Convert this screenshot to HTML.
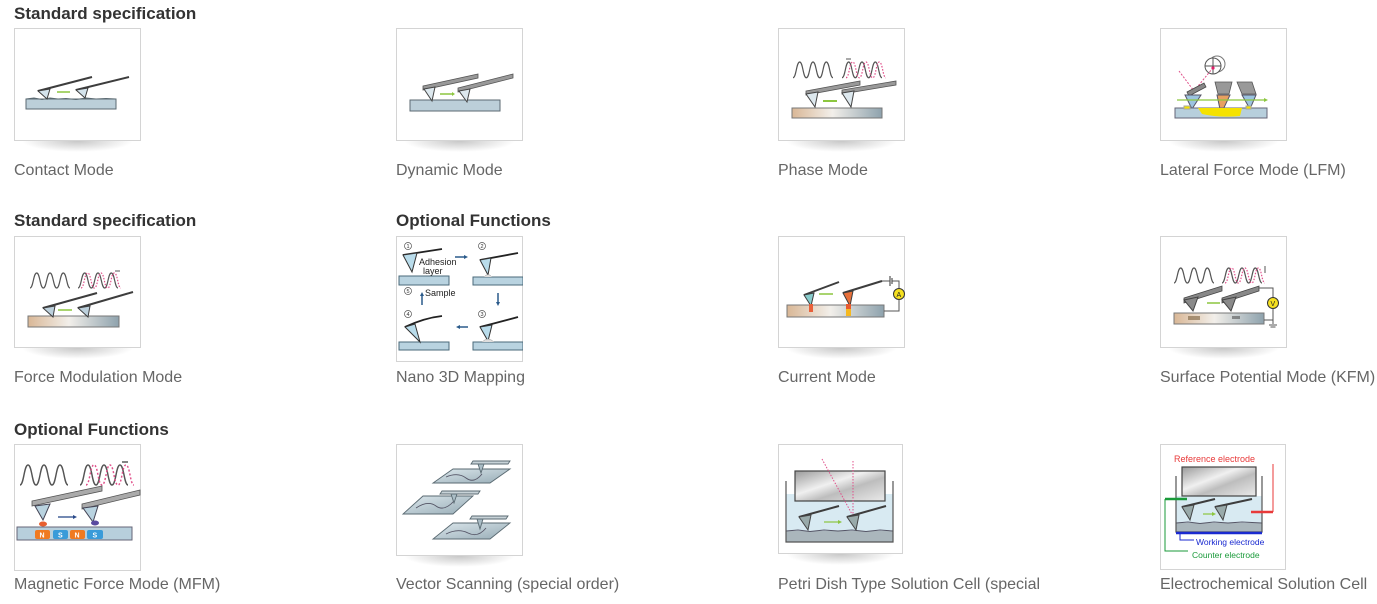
<!DOCTYPE html>
<html><head><meta charset="utf-8">
<style>
html,body{margin:0;padding:0;background:#fff;}
body{width:1377px;height:604px;position:relative;overflow:hidden;font-family:"Liberation Sans",Arial,sans-serif;}
.h{position:absolute;font-weight:bold;font-size:17px;line-height:20px;color:#333;white-space:nowrap;}
.c{position:absolute;font-size:16px;line-height:20px;color:#666;white-space:nowrap;}
.b{position:absolute;}
.sh{position:absolute;height:11px;background:radial-gradient(ellipse 50% 100% at 50% 0%,rgba(0,0,0,0.22),rgba(0,0,0,0) 100%);}
svg text{font-family:"Liberation Sans",Arial,sans-serif;}
</style></head><body>
<svg width="0" height="0" style="position:absolute">
<defs>
<path id="w" d="M0,15 C3.3,15 3.3,0 6.7,0 C10,0 10,15 13.3,15 C16.7,15 16.7,0 20,0 C23.3,0 23.3,15 26.7,15 C30,15 30,0 33.3,0 C36.7,0 36.7,15 40,15" fill="none"/>
<linearGradient id="gs" x1="0" x2="1" y1="0" y2="0"><stop offset="0" stop-color="#d9b796"/><stop offset="0.45" stop-color="#f2efea"/><stop offset="1" stop-color="#8ea2ad"/></linearGradient>
<linearGradient id="gv" x1="0" x2="1" y1="0" y2="1"><stop offset="0" stop-color="#dce7ec"/><stop offset="1" stop-color="#97acb6"/></linearGradient>
<linearGradient id="gg" x1="0" x2="1" y1="0" y2="1"><stop offset="0" stop-color="#9a9a9a"/><stop offset="0.4" stop-color="#f0f0f0"/><stop offset="0.6" stop-color="#bdbdbd"/><stop offset="1" stop-color="#eaeaea"/></linearGradient>
</defs></svg>

<!-- Headings -->
<div class="h" style="left:14px;top:4px">Standard specification</div>
<div class="h" style="left:14px;top:211px">Standard specification</div>
<div class="h" style="left:396px;top:211px">Optional Functions</div>
<div class="h" style="left:14px;top:420px">Optional Functions</div>

<!-- Row 1 -->
<!-- Contact -->
<svg class="b" style="left:14px;top:28px" width="127" height="113">
<rect x="0.5" y="0.5" width="126" height="112" fill="#fff" stroke="#d4d4d4"/>
<rect x="12" y="71" width="90" height="10" fill="#bccfd9" stroke="#5b6a72"/>
<polyline points="12,71 20,70 28,71.5 36,70 44,71 52,70.5 62,71.5 72,70 82,71 92,70.5 102,71" fill="none" stroke="#5b6a72"/>
<line x1="24" y1="63" x2="78" y2="49" stroke="#3d3d3d" stroke-width="2"/>
<polygon points="24,63 36,61 33,71" fill="#d4e3ec" stroke="#3d3d3d"/>
<line x1="62" y1="62" x2="115" y2="49" stroke="#3d3d3d" stroke-width="2"/>
<polygon points="62,62 74,60 71,70" fill="#d4e3ec" stroke="#3d3d3d"/>
<line x1="43" y1="64" x2="56" y2="64" stroke="#8cc63f" stroke-width="1.5"/>
</svg>
<div class="sh" style="left:22px;top:141px;width:111px"></div>
<div class="c" style="left:14px;top:161px">Contact Mode</div>

<!-- Dynamic -->
<svg class="b" style="left:396px;top:28px" width="127" height="113">
<rect x="0.5" y="0.5" width="126" height="112" fill="#fff" stroke="#d4d4d4"/>
<rect x="14" y="72" width="90" height="11" fill="#bccfd9" stroke="#5b6a72"/>
<polygon points="27,58 82,46 82,50 27,62" fill="#999" stroke="#555" stroke-width="0.8"/>
<polygon points="28,61 39,59 36,73" fill="#dde8ee" stroke="#444"/>
<polygon points="62,60 117,46 117,50 62,64" fill="#999" stroke="#555" stroke-width="0.8"/>
<polygon points="63,63 74,61 71,74" fill="#dde8ee" stroke="#444"/>
<line x1="44" y1="66" x2="56" y2="66" stroke="#8cc63f" stroke-width="1.5"/>
<polygon points="56,64 59,66 56,68" fill="#8cc63f"/>
</svg>
<div class="sh" style="left:404px;top:141px;width:111px"></div>
<div class="c" style="left:396px;top:161px">Dynamic Mode</div>

<!-- Phase -->
<svg class="b" style="left:778px;top:28px" width="127" height="113">
<rect x="0.5" y="0.5" width="126" height="112" fill="#fff" stroke="#d4d4d4"/>
<use href="#w" transform="translate(15,34) scale(1,1.05)" stroke="#555" stroke-width="1.2"/>
<use href="#w" transform="translate(64,34) scale(1,1.05)" stroke="#555" stroke-width="1.2"/>
<use href="#w" transform="translate(68,34) scale(1,1.05)" stroke="#e0508a" stroke-width="1.2" stroke-dasharray="1.5,1.5"/>
<line x1="68" y1="31" x2="73" y2="31" stroke="#555"/>
<rect x="14" y="80" width="90" height="10" fill="url(#gs)" stroke="#777"/>
<polygon points="28,63 82,53 82,57 28,67" fill="#999" stroke="#555" stroke-width="0.8"/>
<polygon points="28,66 40,64 37,79" fill="#dde8ee" stroke="#444"/>
<polygon points="64,62 118,53 118,57 64,66" fill="#999" stroke="#555" stroke-width="0.8"/>
<polygon points="64,65 76,63 73,79" fill="#dde8ee" stroke="#444"/>
<line x1="45" y1="73" x2="59" y2="73" stroke="#8cc63f" stroke-width="2"/>
</svg>
<div class="sh" style="left:786px;top:141px;width:111px"></div>
<div class="c" style="left:778px;top:161px">Phase Mode</div>

<!-- LFM -->
<svg class="b" style="left:1160px;top:28px" width="127" height="113">
<rect x="0.5" y="0.5" width="126" height="112" fill="#fff" stroke="#d4d4d4"/>
<circle cx="57" cy="36" r="8" fill="#fff" stroke="#777"/>
<circle cx="53" cy="38" r="8" fill="#fff" stroke="#555"/>
<line x1="45" y1="38" x2="61" y2="38" stroke="#555"/><line x1="53" y1="30" x2="53" y2="46" stroke="#555"/>
<circle cx="53" cy="40" r="1.6" fill="#e0206a"/>
<line x1="19" y1="43" x2="34" y2="63" stroke="#e0508a" stroke-dasharray="2,1.5"/>
<line x1="34" y1="63" x2="52" y2="41" stroke="#e0508a" stroke-dasharray="2,1.5"/>
<polygon points="27,64 44,55 46,59 29,68" fill="#888" stroke="#444" stroke-width="0.8"/>
<path d="M55,54 L72,54 L69,66 L58,66 Z" fill="#999" stroke="#555" stroke-width="0.8"/>
<path d="M77,54 L92,54 L96,66 L82,66 Z" fill="#999" stroke="#555" stroke-width="0.8"/>
<polygon points="25,67 41,67 32,81" fill="#9cc4e0" stroke="#556"/>
<polygon points="57,67 70,67 61,86" fill="#e8a060" stroke="#556"/>
<polygon points="82,67 96,67 90,81" fill="#9cc4e0" stroke="#556"/>
<line x1="17" y1="72" x2="104" y2="72" stroke="#8cc63f" stroke-width="1.2"/>
<polygon points="104,70 108,72 104,74" fill="#8cc63f"/>
<rect x="15" y="80" width="92" height="10" fill="#b7cfdc" stroke="#667"/>
<path d="M38,80 L82,80 L80,88 Q60,90 42,86 Z" fill="#f5e200"/>
<rect x="24" y="78" width="6" height="3" fill="#f5e200" stroke="#aa9"/>
<rect x="86" y="78" width="5" height="3" fill="#f5e200" stroke="#aa9"/>
</svg>
<div class="sh" style="left:1168px;top:141px;width:111px"></div>
<div class="c" style="left:1160px;top:161px">Lateral Force Mode (LFM)</div>

<!-- Row 2 -->
<!-- Force Modulation -->
<svg class="b" style="left:14px;top:236px" width="127" height="112">
<rect x="0.5" y="0.5" width="126" height="111" fill="#fff" stroke="#d4d4d4"/>
<use href="#w" transform="translate(16,37)" stroke="#555" stroke-width="1.2"/>
<use href="#w" transform="translate(64,37)" stroke="#555" stroke-width="1.2"/>
<use href="#w" transform="translate(67,37)" stroke="#e0508a" stroke-width="1.2" stroke-dasharray="1.5,1.5"/>
<line x1="101" y1="35" x2="106" y2="35" stroke="#555"/>
<rect x="14" y="80" width="91" height="11" fill="url(#gs)" stroke="#777"/>
<line x1="29" y1="72" x2="83" y2="57" stroke="#3d3d3d" stroke-width="2"/>
<polygon points="29,72 41,70 39,81" fill="#bcd0dc" stroke="#3d3d3d"/>
<line x1="64" y1="72" x2="119" y2="56" stroke="#3d3d3d" stroke-width="2"/>
<polygon points="64,72 76,70 74,81" fill="#bcd0dc" stroke="#3d3d3d"/>
<line x1="44" y1="74" x2="58" y2="74" stroke="#8cc63f" stroke-width="1.5"/>
</svg>
<div class="sh" style="left:22px;top:348px;width:111px"></div>
<div class="c" style="left:14px;top:368px">Force Modulation Mode</div>

<!-- Nano 3D -->
<svg class="b" style="left:396px;top:236px" width="127" height="126">
<rect x="0.5" y="0.5" width="126" height="125" fill="#fff" stroke="#d4d4d4"/>
<g font-size="5.5" fill="#333" text-anchor="middle">
<circle cx="12" cy="10" r="3.5" fill="none" stroke="#555" stroke-width="0.7"/><text x="12" y="12">1</text>
<circle cx="86" cy="10" r="3.5" fill="none" stroke="#555" stroke-width="0.7"/><text x="86" y="12">2</text>
<circle cx="86" cy="78" r="3.5" fill="none" stroke="#555" stroke-width="0.7"/><text x="86" y="80">3</text>
<circle cx="12" cy="78" r="3.5" fill="none" stroke="#555" stroke-width="0.7"/><text x="12" y="80">4</text>
<circle cx="12" cy="55" r="3.5" fill="none" stroke="#555" stroke-width="0.7"/><text x="12" y="57">5</text>
</g>
<!-- panel 1 -->
<rect x="3" y="40" width="50" height="9" fill="#b9d3e0" stroke="#4a6a7a"/>
<line x1="7" y1="19" x2="46" y2="13" stroke="#222" stroke-width="1.8"/>
<polygon points="7,19 21,17 16,36" fill="#b9dceb" stroke="#333"/>
<text x="23" y="29" font-size="9" fill="#222">Adhesion</text>
<text x="27" y="38" font-size="9" fill="#222">layer</text>
<line x1="59" y1="21" x2="69" y2="21" stroke="#2a5a8a" stroke-width="1.5"/><polygon points="68,19 72,21 68,23" fill="#2a5a8a"/>
<!-- panel 2 -->
<rect x="77" y="41" width="50" height="8" fill="#b9d3e0" stroke="#4a6a7a"/>
<line x1="84" y1="24" x2="122" y2="17" stroke="#222" stroke-width="1.8"/>
<polygon points="84,24 95,22 92,39" fill="#b9dceb" stroke="#333"/>
<path d="M88,41 Q92,36 96,41" fill="#ddd" stroke="#999" stroke-width="0.5"/>
<!-- arrows -->
<line x1="26" y1="69" x2="26" y2="59" stroke="#2a5a8a" stroke-width="1.5"/><polygon points="24,60 26,56 28,60" fill="#2a5a8a"/>
<text x="29" y="60" font-size="9" fill="#222">Sample</text>
<line x1="102" y1="57" x2="102" y2="67" stroke="#2a5a8a" stroke-width="1.5"/><polygon points="100,66 102,70 104,66" fill="#2a5a8a"/>
<line x1="72" y1="91" x2="63" y2="91" stroke="#2a5a8a" stroke-width="1.5"/><polygon points="64,89 60,91 64,93" fill="#2a5a8a"/>
<!-- panel 4 -->
<rect x="3" y="106" width="50" height="8" fill="#b9d3e0" stroke="#4a6a7a"/>
<path d="M9,91 Q28,82 46,80" fill="none" stroke="#222" stroke-width="1.8"/>
<polygon points="9,91 19,88 24,106" fill="#b9dceb" stroke="#333"/>
<!-- panel 3 -->
<rect x="77" y="106" width="50" height="8" fill="#b9d3e0" stroke="#4a6a7a"/>
<path d="M84,91 Q104,86 122,81" fill="none" stroke="#222" stroke-width="1.8"/>
<polygon points="84,91 96,89 92,105" fill="#b9dceb" stroke="#333"/>
<path d="M86,106 Q92,100 98,106" fill="#ddd" stroke="#999" stroke-width="0.5"/>
</svg>
<div class="c" style="left:396px;top:368px">Nano 3D Mapping</div>

<!-- Current -->
<svg class="b" style="left:778px;top:236px" width="127" height="112">
<rect x="0.5" y="0.5" width="126" height="111" fill="#fff" stroke="#d4d4d4"/>
<rect x="9" y="69" width="97" height="12" fill="url(#gs)" stroke="#777"/>
<line x1="26" y1="59" x2="61" y2="46" stroke="#3d3d3d" stroke-width="2"/>
<polygon points="26,59 36,57 33,70" fill="#8cc" stroke="#3d3d3d"/>
<rect x="31" y="68" width="4" height="8" fill="#e8603a"/>
<line x1="65" y1="57" x2="104" y2="45" stroke="#3d3d3d" stroke-width="2"/>
<polygon points="65,57 75,55 72,70" fill="#e8703a" stroke="#3d3d3d"/>
<rect x="68" y="68" width="5" height="12" fill="#f5b820"/>
<rect x="68" y="68" width="5" height="5" fill="#e85a30"/>
<line x1="41" y1="58" x2="55" y2="58" stroke="#8cc63f" stroke-width="1.5"/>
<polyline points="104,45 112,45" fill="none" stroke="#555"/>
<line x1="112" y1="40" x2="112" y2="50" stroke="#555" stroke-width="1.2"/>
<line x1="114" y1="42" x2="114" y2="48" stroke="#555" stroke-width="1.2"/>
<polyline points="114,45 121,45 121,52" fill="none" stroke="#555"/>
<circle cx="121" cy="58" r="5.5" fill="#f5e020" stroke="#333"/>
<text x="118.5" y="61" font-size="7" fill="#222">A</text>
<polyline points="121,64 121,75 106,75" fill="none" stroke="#555"/>
</svg>
<div class="sh" style="left:786px;top:348px;width:111px"></div>
<div class="c" style="left:778px;top:368px">Current Mode</div>

<!-- KFM -->
<svg class="b" style="left:1160px;top:236px" width="127" height="112">
<rect x="0.5" y="0.5" width="126" height="111" fill="#fff" stroke="#d4d4d4"/>
<use href="#w" transform="translate(14,32)" stroke="#555" stroke-width="1.2"/>
<use href="#w" transform="translate(62,32)" stroke="#555" stroke-width="1.2"/>
<use href="#w" transform="translate(65,32)" stroke="#e0508a" stroke-width="1.2" stroke-dasharray="1.5,1.5"/>
<line x1="105" y1="30" x2="105" y2="37" stroke="#555"/>
<rect x="14" y="77" width="90" height="11" fill="url(#gs)" stroke="#777"/>
<rect x="28" y="80" width="12" height="4" fill="#8a7050" opacity="0.7"/>
<rect x="72" y="80" width="8" height="3" fill="#555" opacity="0.6"/>
<polygon points="24,62 62,50 62,55 24,67" fill="#888" stroke="#444" stroke-width="0.8"/>
<polygon points="24,64 38,61 33,75" fill="#8a8a8a" stroke="#444"/>
<polygon points="62,62 99,50 99,55 62,67" fill="#888" stroke="#444" stroke-width="0.8"/>
<polygon points="62,64 76,61 71,75" fill="#8a8a8a" stroke="#444"/>
<line x1="47" y1="67" x2="60" y2="67" stroke="#8cc63f" stroke-width="1.5"/>
<polyline points="99,52 113,52 113,62" fill="none" stroke="#555"/>
<circle cx="113" cy="67" r="5.5" fill="#f5e020" stroke="#333"/>
<text x="110.5" y="70" font-size="7" fill="#222">V</text>
<polyline points="113,73 113,88" fill="none" stroke="#555"/>
<polyline points="104,84 113,84" fill="none" stroke="#555"/>
<line x1="109" y1="89" x2="117" y2="89" stroke="#555"/>
<line x1="110.5" y1="91" x2="115.5" y2="91" stroke="#555"/>
</svg>
<div class="sh" style="left:1168px;top:348px;width:111px"></div>
<div class="c" style="left:1160px;top:368px">Surface Potential Mode (KFM)</div>

<!-- Row 3 -->
<!-- MFM -->
<svg class="b" style="left:14px;top:444px" width="127" height="127">
<rect x="0.5" y="0.5" width="126" height="126" fill="#fff" stroke="#d4d4d4"/>
<use href="#w" transform="translate(6,21) scale(1.2,1.33)" stroke="#555" stroke-width="1.2"/>
<use href="#w" transform="translate(66,21) scale(1.2,1.33)" stroke="#555" stroke-width="1.2"/>
<use href="#w" transform="translate(72,21) scale(1.2,1.33)" stroke="#e0508a" stroke-width="1.2" stroke-dasharray="1.5,1.5"/>
<line x1="108" y1="18" x2="114" y2="18" stroke="#333" stroke-width="1.2"/>
<polygon points="18,57 88,42 88,47 18,62" fill="#aaa" stroke="#555" stroke-width="0.8"/>
<polygon points="68,60 126,46 126,51 68,65" fill="#aaa" stroke="#555" stroke-width="0.8"/>
<polygon points="21,62 36,60 29,76" fill="#b9d3e0" stroke="#445"/>
<polygon points="69,64 84,62 79,78" fill="#b9d3e0" stroke="#445"/>
<ellipse cx="29" cy="80" rx="4" ry="2.5" fill="#e86030"/>
<ellipse cx="81" cy="79" rx="4" ry="2.5" fill="#5a4aa0"/>
<line x1="44" y1="73" x2="60" y2="73" stroke="#2a4a8a" stroke-width="1.3"/><polygon points="59,71 63,73 59,75" fill="#2a4a8a"/>
<rect x="3" y="83" width="115" height="13" fill="#b7cfdc" stroke="#667"/>
<rect x="21" y="86" width="15" height="9" rx="2" fill="#f07a20"/>
<rect x="39" y="86" width="15" height="9" rx="2" fill="#3a9bd9"/>
<rect x="56" y="86" width="15" height="9" rx="2" fill="#f07a20"/>
<rect x="73" y="86" width="16" height="9" rx="2" fill="#3a9bd9"/>
<g font-size="7" fill="#fff" font-weight="bold"><text x="25.5" y="93.5">N</text><text x="44" y="93.5">S</text><text x="60.5" y="93.5">N</text><text x="78.5" y="93.5">S</text></g>
</svg>
<div class="c" style="left:14px;top:575px">Magnetic Force Mode (MFM)</div>

<!-- Vector Scanning -->
<svg class="b" style="left:396px;top:444px" width="127" height="112">
<rect x="0.5" y="0.5" width="126" height="111" fill="#fff" stroke="#d4d4d4"/>
<g stroke="#5a6a72" stroke-width="0.9">
<polygon points="37,39 94,39 114,25 57,25" fill="url(#gv)"/>
<path d="M50,33 Q62,28 70,34 T86,30" fill="none" stroke="#556"/>
<polygon points="77,17 114,17 112,20 75,20" fill="#c8d3d8"/>
<polygon points="82,20 88,20 85,29" fill="#aabdc6"/>
<polygon points="7,70 57,70 77,52 27,52" fill="url(#gv)"/>
<path d="M20,64 Q32,56 40,62 T58,57" fill="none" stroke="#556"/>
<polygon points="46,47 84,47 82,50 44,50" fill="#c8d3d8"/>
<polygon points="55,50 61,50 58,59" fill="#aabdc6"/>
<polygon points="37,95 94,95 114,79 57,79" fill="url(#gv)"/>
<path d="M50,90 Q62,84 72,89 T90,84" fill="none" stroke="#556"/>
<polygon points="76,72 112,72 110,75 74,75" fill="#c8d3d8"/>
<polygon points="81,75 87,75 84,85" fill="#aabdc6"/>
</g>
</svg>
<div class="sh" style="left:404px;top:556px;width:111px"></div>
<div class="c" style="left:396px;top:575px">Vector Scanning (special order)</div>

<!-- Petri -->
<svg class="b" style="left:778px;top:444px" width="125" height="110">
<rect x="0.5" y="0.5" width="124" height="109" fill="#fff" stroke="#d4d4d4"/>
<rect x="8" y="50" width="107" height="48" fill="#d8eaf2"/>
<rect x="8" y="87" width="107" height="11" fill="#aab6bc"/>
<polyline points="8,87 20,86 32,87.5 46,86 60,87 74,86 88,87.5 102,86 115,87" fill="none" stroke="#556"/>
<polyline points="8,37 8,98 115,98 115,37" fill="none" stroke="#555" stroke-width="1.2"/>
<rect x="17" y="27" width="90" height="30" fill="url(#gg)" stroke="#444" stroke-width="1.2"/>
<line x1="44" y1="15" x2="75" y2="72" stroke="#e0508a" stroke-dasharray="1.5,1.5"/>
<line x1="75" y1="17" x2="75" y2="72" stroke="#e0508a" stroke-dasharray="1.5,1.5"/>
<line x1="21" y1="73" x2="61" y2="62" stroke="#3d3d3d" stroke-width="2"/>
<polygon points="21,73 33,71 30,86" fill="#9aa" stroke="#444"/>
<line x1="69" y1="73" x2="108" y2="62" stroke="#3d3d3d" stroke-width="2"/>
<polygon points="69,73 81,71 78,86" fill="#9aa" stroke="#444"/>
<line x1="46" y1="78" x2="61" y2="78" stroke="#8cc63f" stroke-width="1.2"/><polygon points="60,76 64,78 60,80" fill="#8cc63f"/>
</svg>
<div class="sh" style="left:786px;top:554px;width:109px"></div>
<div class="c" style="left:778px;top:575px">Petri Dish Type Solution Cell (special</div>

<!-- Electrochemical -->
<svg class="b" style="left:1160px;top:444px" width="126" height="126">
<rect x="0.5" y="0.5" width="125" height="125" fill="#fff" stroke="#d4d4d4"/>
<text x="14" y="18" font-size="9" fill="#e83a3a">Reference electrode</text>
<rect x="16" y="52" width="86" height="36" fill="#d8eaf2"/>
<rect x="16" y="79" width="86" height="9" fill="#aab6bc"/>
<polyline points="16,79 28,78 40,79.5 54,78 68,79 82,78 102,79" fill="none" stroke="#556"/>
<polyline points="16,32 16,88 102,88 102,32" fill="none" stroke="#555" stroke-width="1.2"/>
<rect x="22" y="23" width="74" height="29" fill="url(#gg)" stroke="#444" stroke-width="1.2"/>
<line x1="16" y1="89" x2="102" y2="89" stroke="#1a2ad0" stroke-width="2.5"/>
<line x1="5" y1="55" x2="27" y2="55" stroke="#1a9a3a" stroke-width="2.5"/>
<polyline points="5,55 5,107 28,107" fill="none" stroke="#1a9a3a"/>
<text x="32" y="114" font-size="8.5" fill="#1a9a3a">Counter electrode</text>
<polyline points="20,90 20,96 34,96" fill="none" stroke="#1a2ad0"/>
<text x="36" y="101" font-size="8.5" fill="#1a2ad0">Working electrode</text>
<line x1="91" y1="68" x2="113" y2="68" stroke="#e83a3a" stroke-width="2.5"/>
<polyline points="113,68 113,20" fill="none" stroke="#e83a3a"/>
<line x1="22" y1="63" x2="55" y2="55" stroke="#3d3d3d" stroke-width="2"/>
<polygon points="22,63 34,61 30,76" fill="#9aa" stroke="#444"/>
<line x1="55" y1="63" x2="92" y2="55" stroke="#3d3d3d" stroke-width="2"/>
<polygon points="55,63 67,61 63,76" fill="#9aa" stroke="#444"/>
<line x1="43" y1="70" x2="53" y2="70" stroke="#8cc63f" stroke-width="1.2"/><polygon points="52,68 56,70 52,72" fill="#8cc63f"/>
</svg>
<div class="c" style="left:1160px;top:575px">Electrochemical Solution Cell</div>

</body></html>
